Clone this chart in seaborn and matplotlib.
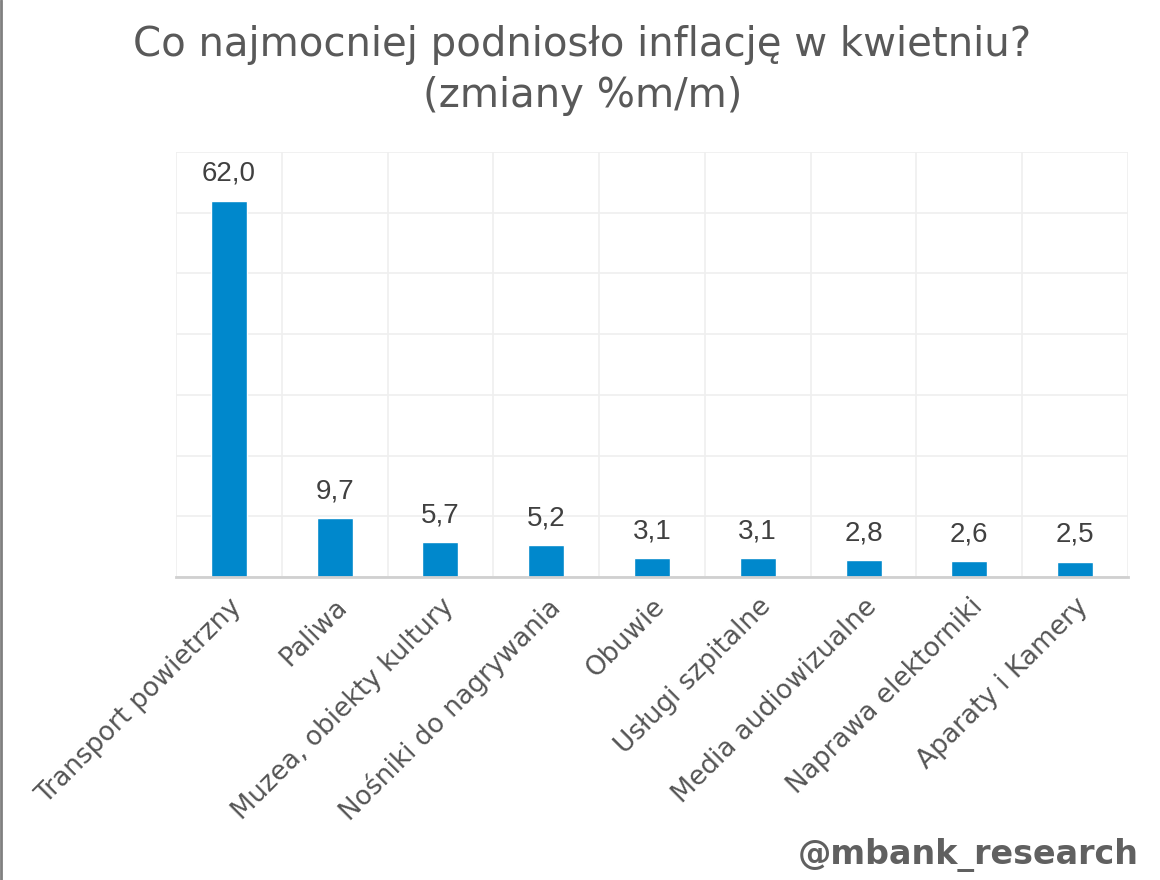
import matplotlib
matplotlib.use('Agg')
import matplotlib.pyplot as plt
from matplotlib.lines import Line2D
import seaborn as sns
import pandas as pd

# data
kategorie = ['Transport powietrzny', 'Paliwa', 'Muzea, obiekty kultury',
             'Nośniki do nagrywania', 'Obuwie', 'Usługi szpitalne',
             'Media audiowizualne', 'Naprawa elektorniki', 'Aparaty i Kamery']
zmiany = [62.0, 9.7, 5.7, 5.2, 3.1, 3.1, 2.8, 2.6, 2.5]

df = pd.DataFrame({'Kategoria': kategorie, 'Zmiana': zmiany})

sns.set_theme(style='white')
plt.rcParams['font.family'] = ['DejaVu Sans']

fig = plt.figure(figsize=(11.6, 8.8), dpi=100)
ax = fig.add_axes([0.1517, 0.3443, 0.8207, 0.483])

sns.barplot(data=df, x='Kategoria', y='Zmiana', color='#0088cc', saturation=1,
            width=0.34, ax=ax)

ax.set_ylim(0, 70)
ax.set_xlim(-0.5, len(kategorie) - 0.5)
ax.set_yticks(range(0, 71, 10))
ax.set_yticklabels([])
ax.set_xticks([i + 0.5 for i in range(-1, len(kategorie))], minor=True)
ax.grid(False)
ax.grid(True, axis='y', which='major', color='#efefef', lw=1.2)
ax.grid(True, axis='x', which='minor', color='#efefef', lw=1.2)
ax.tick_params(axis='both', which='both', length=0)
ax.set_axisbelow(True)
for s in ['top', 'right', 'left']:
    ax.spines[s].set_visible(False)
ax.spines['bottom'].set_color('#d0d0d0')
ax.spines['bottom'].set_linewidth(2)

ax.set_xticks(range(len(kategorie)))
ax.set_xticklabels(kategorie, rotation=45, ha='right', rotation_mode='anchor',
                   fontsize=19, color='#555555')
ax.tick_params(axis='x', pad=12)
ax.set_xlabel('')
ax.set_ylabel('')

etykiety = [f'{v:.1f}'.replace('.', ',') for v in zmiany]
ax.bar_label(ax.containers[0], labels=etykiety, padding=10, fontsize=20,
             color='#404040', family='Liberation Sans')

fig.text(0.502, 0.920, 'Co najmocniej podniosło inflację w kwietniu?\n(zmiany %m/m)',
         ha='center', va='center', fontsize=29, color='#595959',
         linespacing=1.35)
fig.text(0.982, 0.009, '@mbank_research', ha='right', va='bottom',
         fontsize=24, fontweight='bold', color='#606060')

fig.add_artist(Line2D([0.001, 0.001], [0, 1], transform=fig.transFigure,
                      color='#808080', lw=2))

fig.savefig('out.png', dpi=100)
